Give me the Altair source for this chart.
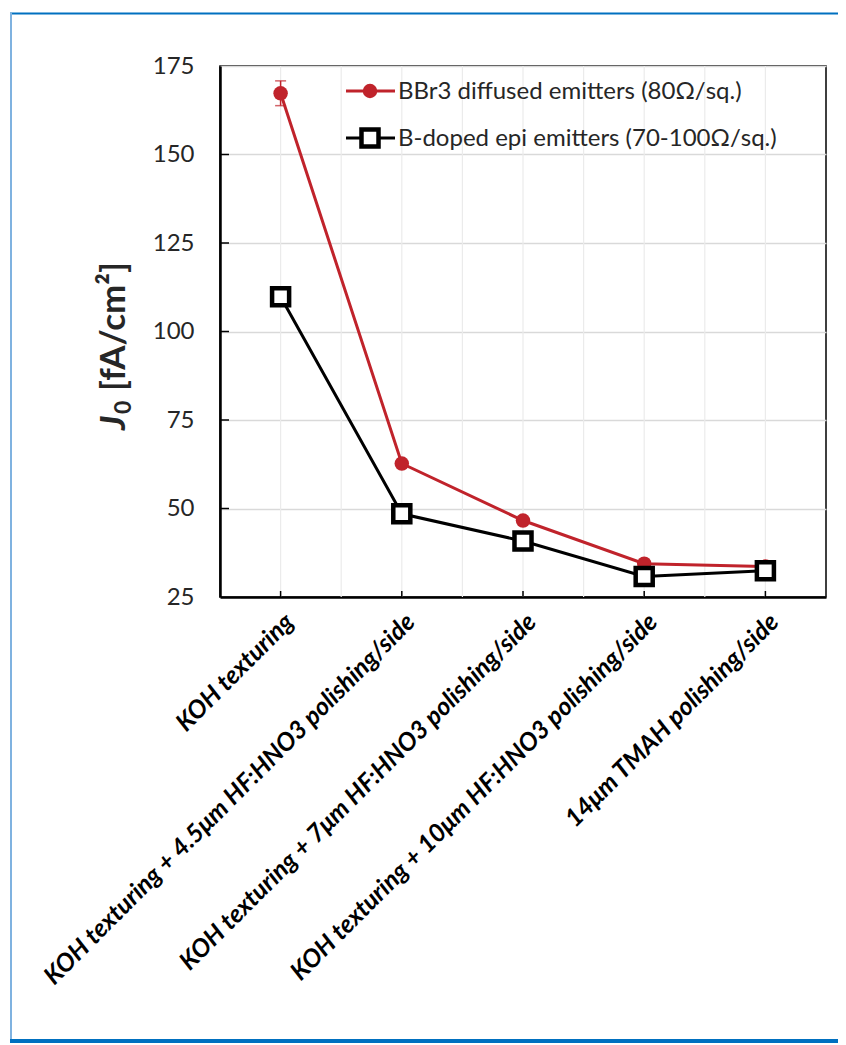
import altair as alt
import pandas as pd

# ---------------- data ----------------
categories = [
    "KOH texturing",
    "KOH texturing + 4.5μm HF:HNO3 polishing/side",
    "KOH texturing + 7μm HF:HNO3 polishing/side",
    "KOH texturing + 10μm HF:HNO3 polishing/side",
    "14μm TMAH polishing/side",
]
bbr3_values = [167.3, 62.7, 46.6, 34.4, 33.6]
bbr3_err = [3.5, 0.0, 0.0, 0.0, 0.0]
epi_values = [109.8, 48.5, 40.8, 30.8, 32.4]
series_names = ["BBr3 diffused emitters (80Ω/sq.)", "B-doped epi emitters (70-100Ω/sq.)"]
series_colors = ["#C0232B", "#000000"]
y_ticks = [25, 50, 75, 100, 125, 150, 175]

# ---------------- layout ----------------
W, H = 606, 531
FONT = "Lato"
n = len(categories)
idx = list(range(n))

red_df = pd.DataFrame({"idx": idx, "v": bbr3_values, "lo": [v - e for v, e in zip(bbr3_values, bbr3_err)],
                       "hi": [v + e for v, e in zip(bbr3_values, bbr3_err)], "err": bbr3_err})
blk_df = pd.DataFrame({"idx": idx, "v": epi_values})
err_df = red_df[red_df["err"] > 0]
vgrid_df = pd.DataFrame({"idx": [i / 2 - 0.5 for i in range(1, 2 * n)]})
xtick_df = pd.DataFrame({"idx": idx})
ytick_df = pd.DataFrame({"v": y_ticks[1:-1]})

label_expr = "[" + ",".join("'" + c + "'" for c in categories) + "][datum.value]"

xscale = alt.Scale(domain=[-0.5, n - 0.5], nice=False, zero=False)
yscale = alt.Scale(domain=[y_ticks[0], y_ticks[-1]], nice=False, zero=False)

x_axis = alt.Axis(values=idx, labelExpr=label_expr, labelAngle=-45, labelAlign="right",
                  labelBaseline="top", labelFont=FONT, labelFontSize=25, labelFontWeight="bold",
                  labelFontStyle="italic", labelColor="black", labelLimit=1000, labelOverlap=False,
                  labelPadding=12, ticks=False, grid=False, domainColor="black", domainWidth=2.5, title=None)
y_axis = alt.Axis(values=y_ticks, labelFont=FONT, labelFontSize=24, labelColor="#262626",
                  labelPadding=26, ticks=False, grid=True, gridColor="#D9D9D9", gridWidth=1.5,
                  domainColor="black", domainWidth=2.5, title=None)


def X(f="idx"):
    return alt.X(f + ":Q", scale=xscale, axis=x_axis, title=None)


def Y(f="v"):
    return alt.Y(f + ":Q", scale=yscale, axis=y_axis, title=None)


vgrid = alt.Chart(vgrid_df).mark_rule(color="#EBEBEB", strokeWidth=1.2).encode(
    x=X(), y=alt.value(0), y2=alt.value(H))

xticks = alt.Chart(xtick_df).mark_rule(color="black", strokeWidth=1.5).encode(
    x=X(), y=alt.value(H), y2=alt.value(H - 6))
yticks = alt.Chart(ytick_df).mark_rule(color="black", strokeWidth=1.5).encode(
    y=Y(), x=alt.value(0), x2=alt.value(9))

red_line = alt.Chart(red_df).mark_line(color=series_colors[0], strokeWidth=3).encode(x=X(), y=Y())
red_err = alt.Chart(err_df).mark_rule(color=series_colors[0], strokeWidth=1.5).encode(
    x=X(), y=Y("lo"), y2="hi:Q")
red_cap_lo = alt.Chart(err_df).mark_tick(color=series_colors[0], orient="horizontal", size=11, thickness=1.5).encode(
    x=X(), y=Y("lo"))
red_cap_hi = alt.Chart(err_df).mark_tick(color=series_colors[0], orient="horizontal", size=11, thickness=1.5).encode(
    x=X(), y=Y("hi"))
red_pts = alt.Chart(red_df).mark_point(shape="circle", filled=True, color=series_colors[0], size=210,
                                       opacity=1).encode(x=X(), y=Y())

blk_line = alt.Chart(blk_df).mark_line(color=series_colors[1], strokeWidth=3).encode(x=X(), y=Y())
blk_pts = alt.Chart(blk_df).mark_point(shape="square", filled=True, fill="white", stroke="black",
                                       strokeWidth=4.5, size=290, opacity=1).encode(x=X(), y=Y())

# ---------------- legend (manual) ----------------
leg_layers = []
leg_rows = [25, 72]
for i, (name, col) in enumerate(zip(series_names, series_colors)):
    ly = leg_rows[i]
    one = pd.DataFrame({"t": [name]})
    leg_layers.append(alt.Chart(one).mark_rule(color=col, strokeWidth=3).encode(
        x=alt.value(126), x2=alt.value(175), y=alt.value(ly)))
    if i == 0:
        leg_layers.append(alt.Chart(one).mark_point(shape="circle", filled=True, color=col, size=210,
                                                    opacity=1).encode(x=alt.value(150), y=alt.value(ly)))
    else:
        leg_layers.append(alt.Chart(one).mark_point(shape="square", filled=True, fill="white", stroke="black",
                                                    strokeWidth=4.5, size=290, opacity=1).encode(
            x=alt.value(150), y=alt.value(ly)))
    leg_layers.append(alt.Chart(one).mark_text(align="left", baseline="middle", font=FONT, fontSize=24,
                                               color="#262626").encode(
        x=alt.value(178), y=alt.value(ly + 1), text="t:N"))

# ---------------- y title (manual, rotated) ----------------
t_j = alt.Chart(pd.DataFrame({"t": ["J"]})).mark_text(
    angle=270, align="left", baseline="alphabetic", font=FONT, fontSize=35, fontWeight="bold",
    fontStyle="italic", color="#262626").encode(x=alt.value(-95), y=alt.value(364), text="t:N")
t_0 = alt.Chart(pd.DataFrame({"t": ["0"]})).mark_text(
    angle=270, align="left", baseline="alphabetic", font=FONT, fontSize=23, fontWeight="bold",
    color="#262626").encode(x=alt.value(-89), y=alt.value(348), text="t:N")
t_rest = alt.Chart(pd.DataFrame({"t": ["[fA/cm²]"]})).mark_text(
    angle=270, align="left", baseline="alphabetic", font=FONT, fontSize=35, fontWeight="bold",
    color="#262626").encode(x=alt.value(-95), y=alt.value(325), text="t:N")

# ---------------- outer blue frame ----------------
fr = pd.DataFrame({"k": [0]})
frame_top = alt.Chart(fr).mark_rule(color="#0070C0", strokeWidth=2).encode(
    x=alt.value(-210), x2=alt.value(618), y=alt.value(-52.5))
frame_left = alt.Chart(fr).mark_rule(color="#7FB2E0", strokeWidth=2).encode(
    x=alt.value(-209), y=alt.value(-53), y2=alt.value(974))
frame_bot = alt.Chart(fr).mark_rule(color="#0070C0", strokeWidth=4).encode(
    x=alt.value(-210), x2=alt.value(618), y=alt.value(975))

chart = alt.layer(
    vgrid, xticks, yticks,
    red_line, red_err, red_cap_lo, red_cap_hi, red_pts,
    blk_line, blk_pts,
    *leg_layers, t_j, t_0, t_rest,
    frame_top, frame_left, frame_bot,
).properties(
    width=W, height=H,
    autosize=alt.AutoSizeParams(type="none"),
    padding={"left": 212, "top": 58, "right": 12, "bottom": 446},
).configure(
    background="white",
    view=alt.ViewConfig(stroke="black", strokeWidth=1.5),
)

chart.save("out.html", embed_options={"renderer": "svg", "actions": False})
